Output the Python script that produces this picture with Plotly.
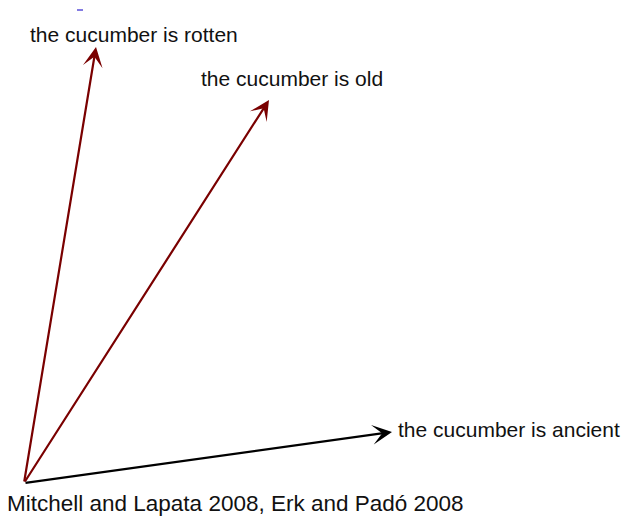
import plotly.graph_objects as go

# Vectors (relative to common origin, y up)
labels = ["the cucumber is rotten", "the cucumber is old", "the cucumber is ancient"]
vec_x = [72, 245, 368]
vec_y = [436, 383, 51]
colors = ["#7a0000", "#7a0000", "#000000"]
caption = "Mitchell and Lapata 2008, Erk and Padó 2008"

# label placement relative to arrow tips (pixel offsets)
label_anchor = ["center", "center", "left"]
label_xshift = [38, 23, 4]
label_yshift = [13, 22, 3]

FONT = "Liberation Sans, Arial, Helvetica, sans-serif"

fig = go.Figure()
fig.add_trace(go.Scatter(x=[0], y=[0], mode="markers", marker=dict(size=1, color="rgba(0,0,0,0)"),
                         hoverinfo="skip", showlegend=False))

annotations = []
for lab, vx, vy, c, anc, xs, ys in zip(labels, vec_x, vec_y, colors, label_anchor, label_xshift, label_yshift):
    annotations.append(dict(
        x=vx, y=vy, ax=0, ay=0, xref="x", yref="y", axref="x", ayref="y",
        text="", showarrow=True, arrowhead=3, arrowsize=1.5, arrowwidth=2.2,
        arrowcolor=c, standoff=0, startstandoff=0,
    ))
    annotations.append(dict(
        x=vx, y=vy, xref="x", yref="y", text=lab, showarrow=False,
        xanchor=anc, yanchor="middle", xshift=xs, yshift=ys,
        font=dict(family=FONT, size=21, color="#111111"),
    ))

annotations.append(dict(
    x=5 / 627, y=1 / 519, xref="paper", yref="paper", text=caption, showarrow=False,
    xanchor="left", yanchor="bottom", font=dict(family=FONT, size=22.5, color="#111111"),
))

fig.update_layout(
    width=627, height=519,
    margin=dict(l=0, r=0, t=0, b=0),
    paper_bgcolor="white", plot_bgcolor="white",
    xaxis=dict(range=[-24, 603], visible=False, fixedrange=True),
    yaxis=dict(range=[-36, 483], visible=False, fixedrange=True),
    annotations=annotations,
    shapes=[dict(type="line", xref="paper", yref="paper", x0=77 / 627, x1=83 / 627,
                 y0=1 - 10 / 519, y1=1 - 10 / 519, line=dict(color="#5a4fd8", width=1.5))],
    showlegend=False,
)

fig.write_html("out.html", config={"displayModeBar": False},
               post_script="document.body.style.margin='0';")
